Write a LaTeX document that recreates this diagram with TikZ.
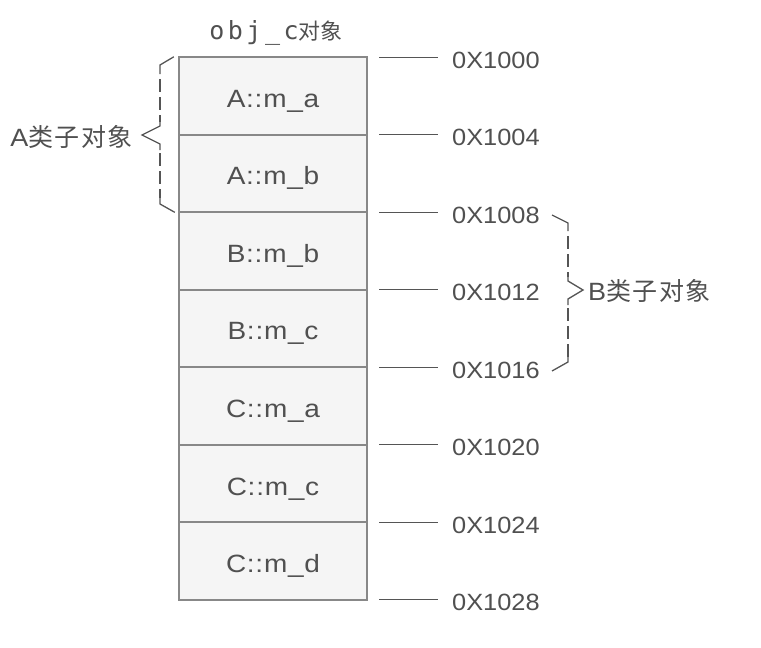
\documentclass[tikz,border=0pt]{standalone}
\usepackage{fontspec}
\setmainfont{Liberation Sans}
\newfontfamily\cjk[LetterSpace=6]{Noto Sans CJK SC}
\newfontfamily\cjkt{Noto Sans CJK SC}
\newfontfamily\monof[LetterSpace=14]{DejaVu Sans Mono}
\newfontfamily\cellf[FakeStretch=1.12,LetterSpace=3]{Liberation Sans}
\newfontfamily\addrf[FakeStretch=1.08]{Liberation Sans}
\definecolor{txt}{HTML}{505050}
\definecolor{bord}{HTML}{888888}
\definecolor{cellfill}{HTML}{F5F5F5}
\definecolor{linec}{HTML}{555555}
\tikzset{
  cell/.style={fill=cellfill, minimum width=188pt,
    minimum height=77.57pt, inner sep=0pt, text height=23pt, text depth=0pt,
    font=\cellf\fontsize{25pt}{25pt}\selectfont, text=txt},
  cellborder/.style={draw=bord, line width=1.6pt},
  addr/.style={anchor=base west, inner sep=0pt, text=txt,
    font=\addrf\fontsize{23.5pt}{23.5pt}\selectfont},
  tick/.style={draw=linec, line width=1pt},
  bsolid/.style={draw=linec, line width=1.3pt, line join=miter},
  bdash/.style={draw=linec, line width=1.3pt, dash pattern=on 13pt off 5pt, dash phase=13pt},
  grp/.style={inner sep=0pt, text=txt, font=\fontsize{25pt}{25pt}\selectfont},
}
\begin{document}
\begin{tikzpicture}[x=1pt,y=-1pt]
\useasboundingbox (0,0) rectangle (761,648);
% cells
\foreach \n/\t [count=\i from 0] in {c1/A::m\_a, c2/A::m\_b, c3/B::m\_b, c4/B::m\_c, c5/C::m\_a, c6/C::m\_c, c7/C::m\_d}{
  \node[cell] (\n) at (273, 57+77.57*\i+38.785) {\t};
}
\foreach \n in {c1,c2,c3,c4,c5,c6,c7}{
  \draw[cellborder] (\n.north west) rectangle (\n.south east);
}
% title
\node[inner sep=0pt, text=txt, anchor=base] (title) at (276,39)
  {{\monof\fontsize{25pt}{25pt}\selectfont obj\_c}{\cjkt\fontsize{22pt}{22pt}\selectfont 对象}};
% addresses
\foreach \a [count=\i from 0] in {1000,1004,1008,1012,1016,1020,1024,1028}{
  \coordinate (s\i) at (379, 57+77.57*\i);
  \node[addr] (a\i) at (452, 57+77.57*\i+11) {0X\a};
  \draw[tick] (s\i) -- (s\i -| 438,0);
}
% A brace
\coordinate (ab1) at ([xshift=-5pt]c1.north west);
\coordinate (ab2) at ([xshift=-4pt]c2.south west);
\draw[bsolid] (ab1) -- (160,65) -- (160,74);
\draw[bdash] (160,74) -- (160,122);
\draw[bsolid] (160,120) -- (160,126) -- (142,135) coordinate (atip) -- (160,144) -- (160,150);
\draw[bdash] (160,148) -- (160,198);
\draw[bsolid] (160,196) -- (160,204) -- (ab2);
\node[grp, anchor=east] (agrp) at (133,137) {{\addrf A}{\cjk 类子对象}};
% B brace
\draw[bsolid] (552,215) -- (568,223) -- (568,231);
\draw[bdash] (568,231) -- (568,277);
\draw[bsolid] (568,275) -- (568,281) -- (583,290) coordinate (btip) -- (568,299) -- (568,305);
\draw[bdash] (568,303) -- (568,357);
\draw[bsolid] (568,355) -- (568,362) -- (552,371);
\node[grp, anchor=west] (bgrp) at (588,291) {{\addrf B}{\cjk 类子对象}};
\end{tikzpicture}
\end{document}
